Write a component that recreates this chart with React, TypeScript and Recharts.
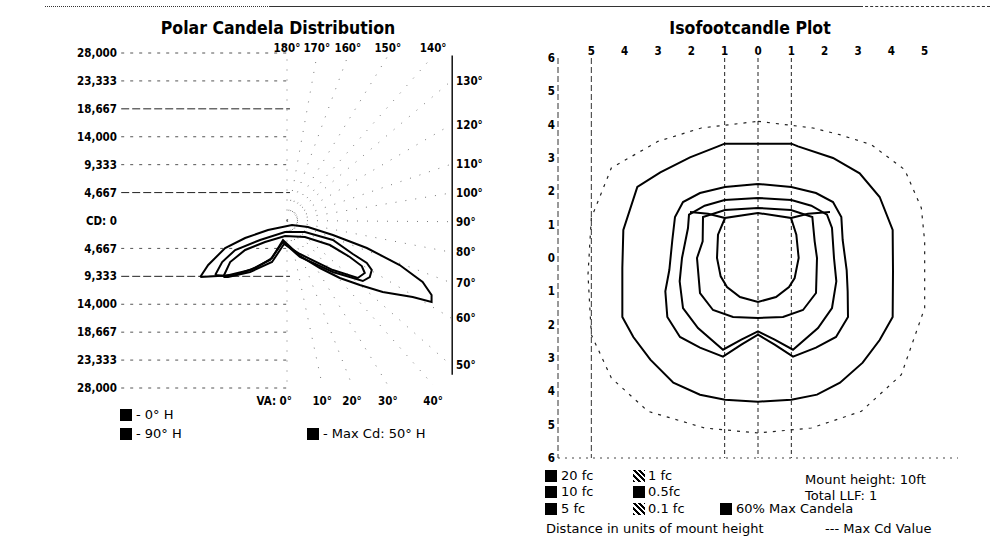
import {
  ScatterChart,
  Scatter,
  XAxis,
  YAxis,
  ReferenceLine,
} from "recharts";

// ---- Polar candela (left) ----
const cdTicks = [
  28000, 23333, 18667, 14000, 9333, 4667, 0, -4667, -9333, -14000, -18667,
  -23333, -28000,
];
const topAngleLabels = ["180°", "170°", "160°", "150°", "140°"];
const topAnglePos = [0, 5000, 10200, 16900, 24500];
const vaLabels = ["VA: 0°", "10°", "20°", "30°", "40°"];
const vaPos = [0, 5900, 10900, 16900, 24500];
const sideAngleLabels = ["130°", "120°", "110°", "100°", "90°", "80°", "70°", "60°", "50°"];
const sideAnglePos = [23300, 16000, 9400, 4600, -200, -5300, -10400, -16300, -24200];

// candela curves [horizontal cd, vertical cd]
const maxCd50H = [
  [-14550, -9450], [-13210, -7440], [-10370, -4600], [-7020, -2930], [-3180, -1590],
  [840, -750], [3510, -1090], [7690, -2420], [13380, -4600], [18890, -7440],
  [22740, -10280], [24240, -12460], [24240, -13630], [21070, -12790], [16050, -11960],
  [12210, -10780], [8860, -9610], [5520, -7940], [2170, -5940], [-670, -3260],
  [-2510, -6270], [-5350, -7940], [-8690, -9110], [-14550, -9450],
];
const h0 = [
  [-12040, -9110], [-10870, -6940], [-8690, -4930], [-4510, -3260], [-330, -1920],
  [3010, -1920], [7690, -3260], [11040, -5600], [13380, -7110], [14210, -8280],
  [13880, -9450], [12710, -10120], [7690, -8610], [2170, -6100], [-670, -3600],
  [-2840, -6600], [-6190, -8280], [-10370, -9280], [-12040, -9110],
];
const h90 = [
  [-10700, -9450], [-9530, -6940], [-7020, -4930], [-3680, -3600], [-330, -2590],
  [3010, -2760], [7190, -4100], [10530, -6100], [12540, -7610], [13040, -8780],
  [11870, -9610], [7690, -8280], [2170, -5600], [-500, -3930], [-2510, -6940],
  [-6190, -8610], [-9870, -9450], [-10700, -9450],
];

// ---- Isofootcandle (right) ----
const isoXTicks = [-5, -4, -3, -2, -1, 0, 1, 2, 3, 4, 5];
const isoYTicks = [6, 5, 4, 3, 2, 1, 0, -1, -2, -3, -4, -5, -6];

const fc20 = [
  [0, 1.35], [0.99, 1.2], [1.15, 0.7], [1.22, 0], [1.1, -0.6], [0.93, -0.87], [0.54, -1.17],
  [0, -1.32], [-0.54, -1.17], [-0.93, -0.87], [-1.12, -0.55], [-1.23, 0], [-1.2, 0.7],
  [-0.99, 1.2], [0, 1.35],
];
const fc10 = [
  [0, 1.5], [0.99, 1.44], [1.63, 1.23], [1.7, 0.5], [1.77, 0], [1.74, -1.05], [1.35, -1.56],
  [0.75, -1.77], [0, -1.8], [-0.75, -1.77], [-1.35, -1.56], [-1.74, -1.05], [-1.83, 0],
  [-1.66, 0.5], [-1.65, 1.23], [-0.99, 1.44], [0, 1.5],
];
const fc5 = [
  [0, 1.8], [1, 1.74], [1.6, 1.57], [2.07, 1.3], [2.22, 0.9], [2.28, 0], [2.35, -0.7],
  [2.22, -1.5], [1.8, -2.1], [1.05, -2.75], [0.5, -2.45], [0, -2.2], [-0.5, -2.45],
  [-1.05, -2.75], [-1.8, -2.1], [-2.25, -1.5], [-2.35, -0.7], [-2.28, 0], [-2.1, 0.9],
  [-2.07, 1.3], [-1.6, 1.57], [-1, 1.74], [0, 1.8],
];
const maxCd60 = [
  [0, 2.22], [1, 2.13], [1.74, 1.95], [2.25, 1.68], [2.5, 1.23], [2.54, 0.54], [2.66, -0.36],
  [2.69, -1.0], [2.7, -1.77], [2.34, -2.37], [1.74, -2.69], [1.05, -2.96], [0.5, -2.6],
  [0, -2.3], [-0.5, -2.6], [-1.05, -2.96], [-1.74, -2.69], [-2.34, -2.37], [-2.72, -1.77],
  [-2.78, -1.0], [-2.66, -0.36], [-2.57, 0.54], [-2.49, 1.23], [-2.25, 1.68], [-1.74, 1.95],
  [-0.99, 2.13], [0, 2.22],
];
const hornLeft = [[-0.99, 1.2], [-1.5, 1.33], [-2.04, 1.38]];
const hornRight = [[0.99, 1.2], [1.5, 1.33], [2.16, 1.38]];
const fc1 = [
  [0, 3.43], [1, 3.43], [1.2, 3.35], [2.25, 3.0], [3.05, 2.54], [3.65, 1.83], [4.04, 0.84],
  [4.05, -0.4], [4.04, -1.77], [3.65, -2.46], [3.14, -3.14], [2.46, -3.74], [1.77, -4.1],
  [1.0, -4.25], [0, -4.31], [-0.99, -4.25], [-1.74, -4.1], [-2.54, -3.74], [-3.23, -3.05],
  [-3.74, -2.37], [-4.07, -1.77], [-4.07, -0.3], [-4.04, 0.84], [-3.62, 2.13], [-2.93, 2.57],
  [-2.04, 3.02], [-1.2, 3.35], [-1, 3.43], [0, 3.43],
];
const fc05 = [
  [0, 4.1], [1.65, 3.9], [2.45, 3.7], [3.4, 3.4], [4.4, 2.65], [4.9, 1.5], [5.0, 0.5],
  [5.0, -1.5], [4.3, -3.5], [3.1, -4.6], [1.6, -5.1], [0, -5.25], [-1.6, -5.1],
  [-3.3, -4.6], [-4.4, -3.6], [-5, -2.3], [-5.1, -0.5], [-5.0, 1.2], [-4.4, 2.7],
  [-3.0, 3.5], [-1.7, 3.9], [0, 4.1],
];
const isoGridX = [-1, 0, 1];

const pts = (arr: number[][]) => arr.map(([x, y]) => ({ x, y }));

const font = "'DejaVu Sans Condensed', 'DejaVu Sans', sans-serif";
const tickStyle = { fontSize: 11.5, fontFamily: font, fontWeight: "bold", fill: "#000" };

function NoDot() {
  return <g />;
}

function VaTick(props: any) {
  const { x, y, payload } = props;
  const i = vaPos.indexOf(payload.value);
  const first = i === 0;
  return (
    <text
      x={first ? x + 5 : x}
      y={y}
      dy="0.71em"
      textAnchor={first ? "end" : "middle"}
      style={tickStyle}
    >
      {vaLabels[i]}
    </text>
  );
}

function PolarChart() {
  const side = (v: number) => sideAngleLabels[sideAnglePos.indexOf(v)] ?? "";
  const top = (v: number) => topAngleLabels[topAnglePos.indexOf(v)] ?? "";
  const cdLabel = (v: number) =>
    v === 0 ? "CD: 0" : Math.abs(v).toLocaleString("en-US");
  const curves = [maxCd50H, h0, h90];

  return (
    <ScatterChart width={520} height={420} margin={{ top: 33, right: 16, bottom: 12, left: 0 }}>
      <XAxis
        xAxisId="b"
        type="number"
        dataKey="x"
        domain={[-28000, 28000]}
        ticks={vaPos}
        interval={0}
        tick={<VaTick />}
        height={20}
        axisLine={false}
        tickLine={false}
        tickSize={0}
        tickMargin={9}
        allowDataOverflow
      />
      <XAxis
        xAxisId="t"
        orientation="top"
        type="number"
        dataKey="x"
        domain={[-28000, 28000]}
        ticks={topAnglePos}
        interval={0}
        tickFormatter={top}
        tick={tickStyle}
        height={20}
        axisLine={false}
        tickLine={false}
        tickSize={0}
        tickMargin={1}
        allowDataOverflow
      />
      <YAxis
        yAxisId="l"
        type="number"
        dataKey="y"
        domain={[-28000, 28000]}
        ticks={cdTicks}
        interval={0}
        tickFormatter={cdLabel}
        tick={tickStyle}
        width={120}
        axisLine={false}
        tickLine={false}
        tickSize={0}
        tickMargin={3}
        allowDataOverflow
      />
      <YAxis
        yAxisId="r"
        orientation="right"
        type="number"
        dataKey="y"
        domain={[-28000, 28000]}
        ticks={sideAnglePos}
        interval={0}
        tickFormatter={side}
        tick={{ ...tickStyle, textAnchor: "start" }}
        width={50}
        axisLine={false}
        tickLine={false}
        tickSize={0}
        tickMargin={2}
        allowDataOverflow
      />
      {cdTicks
        .filter((v) => v !== 0)
        .map((v) => (
          <ReferenceLine
            key={"g" + v}
            xAxisId="b"
            yAxisId="l"
            segment={[{ x: -27800, y: v }, { x: 500, y: v }]}
            stroke={v === 4667 || v === -9333 || v === 18667 ? "#222" : "#555"}
            strokeDasharray={v === 4667 || v === -9333 || v === 18667 ? "8 3" : "3 6"}
            ifOverflow="visible"
          />
        ))}
      {topAnglePos.map((v) => (
        <ReferenceLine
          key={"t" + v}
          xAxisId="b"
          yAxisId="l"
          segment={[{ x: 0, y: 0 }, { x: v, y: 27500 }]}
          stroke="#777"
          strokeDasharray="1 9"
          ifOverflow="visible"
        />
      ))}
      {vaPos.map((v) => (
        <ReferenceLine
          key={"v" + v}
          xAxisId="b"
          yAxisId="l"
          segment={[{ x: 0, y: 0 }, { x: v, y: -27500 }]}
          stroke="#777"
          strokeDasharray="1 9"
          ifOverflow="visible"
        />
      ))}
      {sideAnglePos.map((v) => (
        <ReferenceLine
          key={"s" + v}
          xAxisId="b"
          yAxisId="l"
          segment={[{ x: 0, y: 0 }, { x: 27500, y: v }]}
          stroke="#777"
          strokeDasharray="1 9"
          ifOverflow="visible"
        />
      ))}
      <ReferenceLine
        xAxisId="b"
        yAxisId="l"
        segment={[{ x: 27700, y: 27600 }, { x: 27700, y: -25800 }]}
        stroke="#111"
        strokeWidth={1.5}
        ifOverflow="visible"
      />
      {curves.map((c, i) => (
        <Scatter
          key={i}
          xAxisId="b"
          yAxisId="l"
          data={pts(c)}
          line={{ stroke: "#000", strokeWidth: 2 }}
          shape={<NoDot />}
          isAnimationActive={false}
        />
      ))}
    </ScatterChart>
  );
}

function IsoChart() {
  const solid = [fc20, fc10, fc5, maxCd60, hornLeft, hornRight, fc1];
  return (
    <ScatterChart width={480} height={470} margin={{ top: 38, right: 22, bottom: 12, left: 0 }}>
      <XAxis
        orientation="top"
        type="number"
        dataKey="x"
        domain={[-6, 6]}
        ticks={isoXTicks}
        interval={0}
        tickFormatter={(v: number) => String(Math.abs(v))}
        tick={tickStyle}
        height={20}
        axisLine={false}
        tickLine={false}
        tickSize={0}
        tickMargin={3}
        allowDataOverflow
      />
      <YAxis
        type="number"
        dataKey="y"
        domain={[-6, 6]}
        ticks={isoYTicks}
        interval={0}
        tickFormatter={(v: number) => String(Math.abs(v))}
        tick={tickStyle}
        width={58}
        axisLine={{ stroke: "#333", strokeDasharray: "6 3" }}
        tickLine={false}
        tickSize={0}
        tickMargin={3}
        allowDataOverflow
      />
      {isoGridX.map((v) => (
        <ReferenceLine key={v} x={v} stroke="#222" strokeDasharray="4 3" />
      ))}
      <ReferenceLine x={-5} stroke="#333" strokeDasharray="6 3" />
      <ReferenceLine y={-6} stroke="#444" strokeDasharray="2 5" />
      <Scatter
        data={pts(fc05)}
        line={{ stroke: "#222", strokeWidth: 1.2, strokeDasharray: "3 6" }}
        shape={<NoDot />}
        isAnimationActive={false}
      />
      {solid.map((c, i) => (
        <Scatter
          key={i}
          data={pts(c)}
          line={{ stroke: "#000", strokeWidth: 2 }}
          shape={<NoDot />}
          isAnimationActive={false}
        />
      ))}
    </ScatterChart>
  );
}

const legendText = { fontFamily: "'DejaVu Sans', sans-serif", fontSize: 13, color: "#000" };

function Swatch({ x, y, hatch }: { x: number; y: number; hatch?: boolean }) {
  return (
    <div
      style={{
        position: "absolute",
        left: x,
        top: y - 6,
        width: 12,
        height: 12,
        background: hatch
          ? "repeating-linear-gradient(45deg, #000 0 2px, #fff 2px 4px)"
          : "#000",
      }}
    />
  );
}

function Label({ x, y, text }: { x: number; y: number; text: string }) {
  return (
    <div style={{ ...legendText, position: "absolute", left: x, top: y - 9, lineHeight: "18px", whiteSpace: "nowrap" }}>
      {text}
    </div>
  );
}

const titleStyle = {
  position: "absolute" as const,
  textAlign: "center" as const,
  fontFamily: font,
  fontWeight: "bold",
  fontSize: 17.5,
  lineHeight: "22px",
};

export default function App() {
  return (
    <div style={{ position: "absolute", left: 0, top: 0, width: 1001, height: 559, background: "#fff", overflow: "hidden" }}>
      <div style={{ position: "absolute", left: 45, top: 6, width: 225, borderTop: "1px dotted #333" }} />
      <div style={{ position: "absolute", left: 270, top: 6, width: 590, borderTop: "1px solid #333" }} />
      <div style={{ position: "absolute", left: 860, top: 6, width: 130, borderTop: "1px dashed #333" }} />

      <div style={{ position: "absolute", left: 0, top: 0 }}>
        <PolarChart />
      </div>
      <div style={{ position: "absolute", left: 500, top: 0 }}>
        <IsoChart />
      </div>

      <div style={{ ...titleStyle, left: 128, top: 17, width: 300 }}>
        Polar Candela Distribution
      </div>
      <div style={{ ...titleStyle, left: 600, top: 17, width: 300 }}>
        Isofootcandle Plot
      </div>

      <Swatch x={120} y={415} />
      <Label x={136} y={415} text="- 0° H" />
      <Swatch x={120} y={434} />
      <Label x={136} y={434} text="- 90° H" />
      <Swatch x={307} y={434} />
      <Label x={323} y={434} text="- Max Cd: 50° H" />

      <Swatch x={545} y={476} />
      <Label x={561} y={476} text="20 fc" />
      <Swatch x={545} y={492} />
      <Label x={561} y={492} text="10 fc" />
      <Swatch x={545} y={509} />
      <Label x={561} y={509} text="5 fc" />
      <Swatch x={633} y={476} hatch />
      <Label x={648} y={476} text="1 fc" />
      <Swatch x={633} y={492} />
      <Label x={648} y={492} text="0.5fc" />
      <Swatch x={633} y={509} hatch />
      <Label x={648} y={509} text="0.1 fc" />
      <Swatch x={720} y={509} />
      <Label x={736} y={509} text="60% Max Candela" />
      <Label x={805} y={480} text="Mount height: 10ft" />
      <Label x={805} y={496} text="Total LLF: 1" />
      <Label x={546} y={529} text="Distance in units of mount height" />
      <Label x={825} y={529} text="--- Max Cd Value" />
    </div>
  );
}
